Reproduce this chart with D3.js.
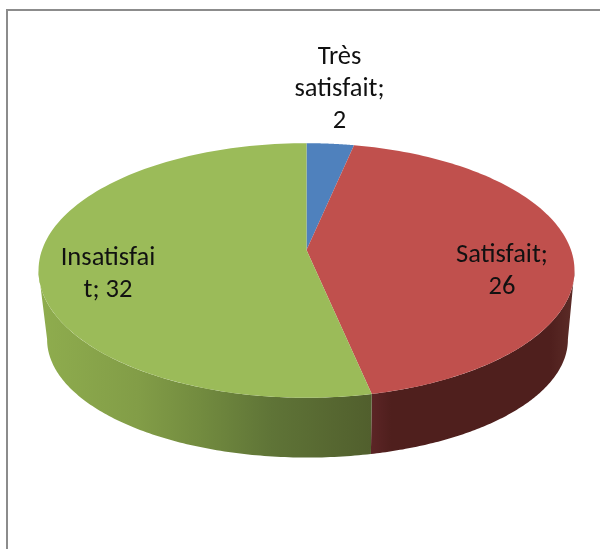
<!DOCTYPE html>
<html><head><meta charset="utf-8">
<script src="https://cdn.jsdelivr.net/npm/d3@7"></script>
<style>html,body{margin:0;padding:0;background:#fff;overflow:hidden}svg{display:block}</style>
</head><body><svg id="c" width="600" height="549"></svg>
<script>
const categories = ["Très satisfait", "Satisfait", "Insatisfait"];
const values = [2, 26, 32];
const topColors = ["#4f81bd", "#c0504d", "#9bbb59"];
const labelLines = [["Très", "satisfait;", "2"], ["Satisfait;", "26"], ["Insatisfai", "t; 32"]];
const labelAnchors = [[339.5, 64], [502, 262], [108, 265]];

const svg = d3.select("#c");
const k = 0.161, cx = 306.5;
const topRim = a => { const u = Math.sin(a), v = -Math.cos(a), w = 1 - k * v;
  return [cx + 264.5 * u / w, 250 + 124 * v / w]; };
const lowRim = a => { const u = Math.sin(a), v = -Math.cos(a), w = 1 - k * v;
  return [cx + 1 + 257 * u / w, 320.5 + 115 * v / w]; };
const arcs = d3.pie().sort(null)(values);
const sample = (a, b) => d3.range(0, 121).map(i => a + (b - a) * i / 120);
const line = d3.line();

const defs = svg.append("defs");
const grad = (id, x1, x2, stops) => {
  const g = defs.append("linearGradient").attr("id", id).attr("gradientUnits", "userSpaceOnUse")
    .attr("x1", x1).attr("x2", x2).attr("y1", 0).attr("y2", 0);
  stops.forEach(s => g.append("stop").attr("offset", s[0]).attr("stop-color", s[1]));
};
grad("gw", 38, 371, [[0, "#8fad4e"], [0.3, "#829d47"], [0.49, "#728b3f"], [0.7, "#5f7437"], [1, "#515f2d"]]);
grad("rw", 371, 570, [[0, "#5c2526"], [0.1, "#4f1f1d"], [0.9, "#4f1f1d"], [1, "#5a2a26"]]);

svg.append("rect").attr("x", 7).attr("y", 10).attr("width", 620).attr("height", 570)
  .attr("fill", "#fff").attr("stroke", "#8c8c8c").attr("stroke-width", 2);

const chart = svg.append("g").style("filter", "blur(0.45px)");
const wallFill = ["#2a4365", "url(#rw)", "url(#gw)"];
const p = Math.PI;
arcs.forEach((d, i) => {
  const a = Math.max(d.startAngle, p / 2 + 0.16), b = Math.min(d.endAngle, 3 * p / 2 - 0.16);
  if (b <= a) return;
  const pts = sample(a, b).map(topRim).concat(sample(a, b).reverse().map(lowRim));
  chart.append("path").attr("d", line(pts) + "Z").attr("fill", wallFill[i]);
});
arcs.forEach((d, i) => {
  const pts = [[cx, 250]].concat(sample(d.startAngle, d.endAngle).map(topRim));
  chart.append("path").attr("d", line(pts) + "Z").attr("fill", topColors[i]);
});
labelLines.forEach((ls, i) => {
  ls.forEach((t, j) => chart.append("text").text(t)
    .attr("x", labelAnchors[i][0]).attr("y", labelAnchors[i][1] + j * 32)
    .attr("text-anchor", "middle").attr("font-family", "Carlito, 'Open Sans', 'Noto Sans', sans-serif")
    .attr("font-size", 26.5).attr("fill", "#111"));
});
</script></body></html>
